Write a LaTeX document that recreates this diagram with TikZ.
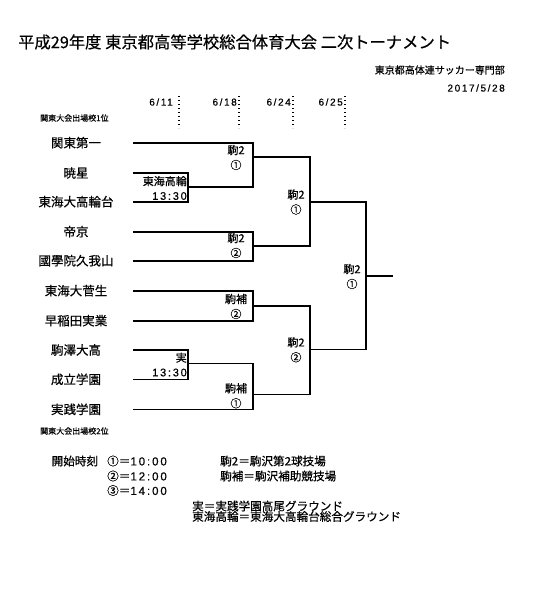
\documentclass[tikz,border=0pt]{standalone}
\usepackage{fontspec}
\setmainfont{Noto Sans CJK JP}[FakeBold=0.5]
\newfontfamily\numfont{Liberation Sans}[LetterSpace=16, FakeBold=0.5]
\usetikzlibrary{positioning}
\tikzstyle{title} = [font=\fontsize{16.3}{18}\selectfont, anchor=west, inner sep=0pt]
\tikzstyle{info} = [font=\fontsize{10}{12}\selectfont, anchor=east, inner sep=0pt]
\tikzstyle{note} = [font=\fontsize{8}{9}\selectfont, anchor=west, inner sep=0pt]
\tikzstyle{team} = [font=\fontsize{12.5}{14}\selectfont, inner sep=0pt]
\tikzstyle{venue} = [font=\fontsize{11}{15}\selectfont, align=center, inner sep=0pt]
\tikzstyle{local} = [font=\fontsize{11}{14.5}\selectfont, align=right, anchor=east, inner sep=0pt]
\tikzstyle{day} = [font=\fontsize{10}{12}\selectfont\numfont, anchor=east, inner sep=0pt]
\tikzstyle{legend} = [font=\fontsize{11.6}{13}\selectfont, anchor=west, inner sep=0pt]
\tikzstyle{bracket} = [line width=1.6pt]
\tikzstyle{guide} = [line width=1.3pt, dash pattern=on 1.3pt off 2.7pt]

\begin{document}
\begin{tikzpicture}[x=1pt, y=-1pt]
            \useasboundingbox[fill=white] (0,0) rectangle (552,592);

            % Header
            \node (title) [title] at (18,42) {平成29年度 東京都高等学校総合体育大会 二次トーナメント};
            \node (org) [info] at (505,70) {東京都高体連サッカー専門部};
            \node (date) [day] at (505,88) {2017/5/28};
            \node (seed1) [note] at (40,118) {関東大会出場校1位};
            \node (seed2) [note] at (40,431) {関東大会出場校2位};

            % Round dates
            \node (d1) [day] at (173,102) {6/11};
            \node (d2) [day] at (237,102) {6/18};
            \node (d3) [day] at (291,102) {6/24};
            \node (d4) [day] at (343,102) {6/25};
            \draw [guide] (d1.east) ++(6,-6) coordinate (g1) -- ++(0,32);
            \draw [guide] (d2.east) ++(2,-6) coordinate (g2) -- ++(0,32);
            \draw [guide] (d3.east) ++(2,-6) coordinate (g3) -- ++(0,32);
            \draw [guide] (d4.east) ++(2,-6) coordinate (g4) -- ++(0,32);

            % Teams
            \node (t1) [team] at (76,142.7) {関東第一};
            \node (t2) [team] at (76,173) {暁星};
            \node (t3) [team] at (76,201.7) {東海大高輪台};
            \node (t4) [team] at (76,231.7) {帝京};
            \node (t5) [team] at (76,260.7) {國學院久我山};
            \node (t6) [team] at (76,290.7) {東海大菅生};
            \node (t7) [team] at (76,320.7) {早稲田実業};
            \node (t8) [team] at (76,350) {駒澤大高};
            \node (t9) [team] at (76,379.3) {成立学園};
            \node (t10) [team] at (76,409.3) {実践学園};
            \coordinate (L) at (133,0);

            % Match points
            \coordinate (mA) at (188,186.7);
            \coordinate (mB) at (188,363.5);
            \coordinate (mC) at (253,156.7);
            \coordinate (mD) at (253,246);
            \coordinate (mE) at (253,305.7);
            \coordinate (mF) at (253,394.3);
            \coordinate (mG) at (310,201.7);
            \coordinate (mH) at (310,349.3);
            \coordinate (mI) at (366,275.7);
            \coordinate (win) at (393,275.7);

            % Draw brackets
            \draw [bracket] (t2 -| L) -| (mA |- t3) -- (t3 -| L);
            \draw [bracket] (t8 -| L) -| (mB |- t9) -- (t9 -| L);
            \draw [bracket] (t1 -| L) -| (mC |- mA) -- (mA);
            \draw [bracket] (t4 -| L) -| (mD |- t5) -- (t5 -| L);
            \draw [bracket] (t6 -| L) -| (mE |- t7) -- (t7 -| L);
            \draw [bracket] (mB) -| (mF |- t10) -- (t10 -| L);
            \draw [bracket] (mC) -| (mG |- mD) -- (mD);
            \draw [bracket] (mE) -| (mH |- mF) -- (mF);
            \draw [bracket] (mG) -| (mI |- mH) -- (mH);
            \draw [bracket] (mI) -- (win);

            % Venues
            \node (vA) [local] at (187,188) {東海高輪\\{\numfont 13:30}};
            \node (vB) [local] at (187,364.5) {実\\{\numfont 13:30}};
            \node (vC) [venue] at (236,157.5) {駒2\\①};
            \node (vD) [venue] at (236,245.5) {駒2\\②};
            \node (vE) [venue] at (236,306.5) {駒補\\②};
            \node (vF) [venue] at (236,395.8) {駒補\\①};
            \node (vG) [venue] at (296,202) {駒2\\①};
            \node (vH) [venue] at (296,349.8) {駒2\\②};
            \node (vI) [venue] at (352,276.5) {駒2\\①};

            % Legend
            \node (start) [legend] at (51.5,461) {開始時刻};
            \node (k1) [legend] at (107,461) {①＝{\numfont 10:00}};
            \node (k2) [legend] at (107,476) {②＝{\numfont 12:00}};
            \node (k3) [legend] at (107,490.5) {③＝{\numfont 14:00}};
            \node (s1) [legend] at (220,461) {駒2＝駒沢第2球技場};
            \node (s2) [legend] at (220,476) {駒補＝駒沢補助競技場};
            \node (s3) [legend] at (192,506) {実＝実践学園高尾グラウンド};
            \node (s4) [legend] at (192,516.5) {東海高輪＝東海大高輪台総合グラウンド};
\end{tikzpicture}
\end{document}
